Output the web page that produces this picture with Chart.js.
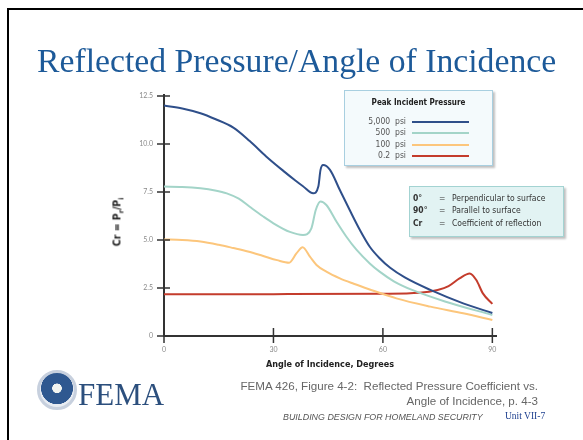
<!DOCTYPE html>
<html>
<head>
<meta charset="utf-8">
<script src="https://cdn.jsdelivr.net/npm/chart.js@4"></script>
<style>
  body { margin: 0; background: #fff; }
  #page { position: relative; width: 583px; height: 440px; overflow: hidden; background: #fff; }
  #frameTop { position: absolute; left: 7px; top: 8px; width: 576px; height: 2px; background: #000; }
  #frameLeft { position: absolute; left: 7px; top: 8px; width: 2px; height: 432px; background: #000; }
  #myChart { position: absolute; left: 0; top: 0; }
  .txt { position: absolute; white-space: nowrap; }
  #title { left: 37px; top: 42px; font-family: "Liberation Serif", serif; font-size: 33.7px; color: #1d5a99; }
  #ytitle { left: 118px; top: 222px; transform: translate(-50%, -50%) rotate(-90deg);
    font-family: "DejaVu Sans Condensed", "DejaVu Sans", sans-serif; font-weight: bold; font-size: 10.5px; color: #222; }
  #ytitle sub { font-size: 7px; }
  .box { position: absolute; box-shadow: 2px 2px 2px rgba(0,0,0,0.25); }
  #legendBox { left: 344px; top: 90px; width: 147px; height: 74px; background: #f4fafc; border: 1.5px solid #a8cfe0; }
  #legendHead { position: absolute; left: 0; width: 100%; top: 7px; text-align: center;
    font-family: "DejaVu Sans Condensed", "DejaVu Sans", sans-serif; font-weight: bold; font-size: 8px; color: #222; }
  .lrow { position: absolute; left: 0; height: 11px; width: 100%; }
  .lrow span { position: absolute; right: 86px; top: 0; font-family: "DejaVu Sans Condensed", "DejaVu Sans", sans-serif; font-size: 8.5px; color: #555; line-height: 11px; }
  .lrow i { position: absolute; left: 67px; top: 5px; width: 57px; height: 2px; }
  #noteBox { left: 409px; top: 186px; width: 153px; height: 49px; background: #e2f3f3; border: 1.5px solid #a3d3d2; }
  .nrow { position: absolute; left: 0; height: 12px; width: 100%; font-family: "DejaVu Sans Condensed", "DejaVu Sans", sans-serif; font-size: 8.5px; color: #333; line-height: 12px; }
  .nrow b { position: absolute; left: 3px; }
  .nrow em { position: absolute; left: 29px; font-style: normal; }
  .nrow span { position: absolute; left: 42px; }
  #cap1 { right: 45px; top: 379px; font-family: "Liberation Sans", Arial, sans-serif; font-size: 11.6px; color: #666; }
  #cap2 { right: 45px; top: 394px; font-family: "Liberation Sans", Arial, sans-serif; font-size: 11.6px; color: #666; }
  #cap3 { left: 283px; top: 412px; font-family: "Liberation Sans", Arial, sans-serif; font-style: italic; font-size: 8.9px; color: #555; }
  #unit { left: 505px; top: 411px; font-family: "Liberation Serif", serif; font-size: 9.5px; color: #1d3f8f; }
  #fema { left: 78px; top: 378px; font-family: "Liberation Serif", serif; font-size: 31px; color: #2c4f7d; line-height: 34px; }
  #seal { position: absolute; left: 37px; top: 370px; width: 34px; height: 34px; border-radius: 50%;
    border: 3px solid #c7d0de; background: radial-gradient(circle at 50% 45%, #f2f4f0 0 18%, #2f5890 20% 62%, #e8ecf2 64% 100%); }
</style>
</head>
<body>
<div id="page">
  <canvas id="myChart" width="583" height="440"></canvas>
  <div id="frameTop"></div>
  <div id="frameLeft"></div>
  <div class="txt" id="title">Reflected Pressure/Angle of Incidence</div>
  <div class="txt" id="ytitle">Cr = P<sub>r</sub>/P<sub>i</sub></div>
  <div class="box" id="legendBox"><div id="legendHead">Peak Incident Pressure</div></div>
  <div class="box" id="noteBox"></div>
  <div class="txt" id="cap1">FEMA 426, Figure 4-2:&nbsp; Reflected Pressure Coefficient vs.</div>
  <div class="txt" id="cap2">Angle of Incidence, p. 4-3</div>
  <div class="txt" id="cap3">BUILDING DESIGN FOR HOMELAND SECURITY</div>
  <div class="txt" id="unit">Unit VII-7</div>
  <div id="seal"></div>
  <div class="txt" id="fema">FEMA</div>
</div>
<script>
// Cr, per peak incident pressure
const angles5000 = [0, 5, 10, 14, 19, 23.5, 28, 32.7, 36, 38.1, 40.9, 42.3, 42.9, 43.6, 45.5, 48.2, 50.9, 53.7, 56.4, 59.1, 62, 66, 73, 82, 90];
const cr5000 = [12.0, 11.85, 11.6, 11.3, 10.85, 10.15, 9.35, 8.6, 8.1, 7.8, 7.43, 7.78, 8.65, 8.9, 8.65, 7.6, 6.56, 5.52, 4.65, 4.05, 3.55, 3.05, 2.4, 1.7, 1.2];

const angles500 = [0, 5, 10, 14, 17.2, 20.5, 23.5, 27, 30, 34.5, 38.1, 40.4, 41.6, 42.9, 44.5, 47.3, 50, 52.8, 56.4, 59.1, 63, 68, 77, 90];
const cr500 = [7.78, 7.76, 7.69, 7.58, 7.43, 7.15, 6.73, 6.25, 5.87, 5.42, 5.26, 5.61, 6.56, 7.0, 6.82, 5.95, 5.17, 4.48, 3.78, 3.35, 2.85, 2.4, 1.8, 1.09];

const angles100 = [0, 5, 10, 15, 19, 23, 27, 31, 34.3, 36.3, 38, 40, 41.8, 44.5, 48.2, 52, 56, 63.7, 73, 82, 90];
const cr100 = [5.03, 5.0, 4.92, 4.75, 4.58, 4.4, 4.18, 3.95, 3.82, 4.3, 4.62, 4.13, 3.7, 3.35, 3.0, 2.72, 2.45, 1.96, 1.53, 1.18, 0.83];

const angles02 = [0, 30, 60, 70, 75, 78, 81, 83.8, 85.6, 87.4, 90];
const cr02 = [2.17, 2.18, 2.2, 2.25, 2.4, 2.6, 3.0, 3.26, 2.92, 2.22, 1.67];

const seriesLabels = ['5,000', '500', '100', '0.2'];
const seriesColors = ['#2f4f8a', '#a3d4c8', '#fcc67c', '#c43c2c'];

const xTickValues = [0, 30, 60, 90];
const xTickLabels = ['0', '30', '60', '90'];
const yTickValues = [0, 2.5, 5, 7.5, 10, 12.5];
const yTickLabels = ['0', '2.5', '5.0', '7.5', '10.0', '12.5'];

const notes = [['0°', 'Perpendicular to surface'], ['90°', 'Parallel to surface'], ['Cr', 'Coefficient of reflection']];

function toPoints(xs, ys) {
    return xs.map((x, i) => ({ x: x, y: ys[i] }));
}

// legend rows
const legendBox = document.getElementById('legendBox');
seriesLabels.forEach((lab, i) => {
    const row = document.createElement('div');
    row.className = 'lrow';
    row.style.top = (25 + i * 11.3) + 'px';
    row.innerHTML = `<span>${lab}&nbsp; psi</span><i style="background:${seriesColors[i]}"></i>`;
    legendBox.appendChild(row);
});
const noteBox = document.getElementById('noteBox');
notes.forEach((n, i) => {
    const row = document.createElement('div');
    row.className = 'nrow';
    row.style.top = (5 + i * 12.3) + 'px';
    row.innerHTML = `<b>${n[0]}</b><em>=</em><span>${n[1]}</span>`;
    noteBox.appendChild(row);
});

// tick marks that cross the axis lines
const crossTicks = {
    id: 'crossTicks',
    afterDraw(chart) {
        const ctx = chart.ctx;
        const xs = chart.scales.x;
        const ys = chart.scales.y;
        const axisY = ys.getPixelForValue(0);
        const axisX = xs.getPixelForValue(0);
        ctx.save();
        ctx.strokeStyle = '#333';
        ctx.lineWidth = 1.5;
        ctx.beginPath();
        xTickValues.forEach(v => {
            const px = xs.getPixelForValue(v);
            ctx.moveTo(px, axisY - 8);
            ctx.lineTo(px, axisY + 7);
        });
        yTickValues.forEach(v => {
            const py = ys.getPixelForValue(v);
            ctx.moveTo(axisX - 7, py);
            ctx.lineTo(axisX + 6, py);
        });
        ctx.stroke();
        ctx.restore();
    }
};

const ctx = document.getElementById('myChart').getContext('2d');
new Chart(ctx, {
    type: 'line',
    data: {
        datasets: [
            { label: seriesLabels[0], data: toPoints(angles5000, cr5000), borderColor: seriesColors[0] },
            { label: seriesLabels[1], data: toPoints(angles500, cr500), borderColor: seriesColors[1] },
            { label: seriesLabels[2], data: toPoints(angles100, cr100), borderColor: seriesColors[2] },
            { label: seriesLabels[3], data: toPoints(angles02, cr02), borderColor: seriesColors[3] },
        ]
    },
    options: {
        responsive: false,
        animation: false,
        devicePixelRatio: 1,
        layout: { padding: { left: 100, top: 95, right: 87, bottom: 64 } },
        elements: {
            point: { radius: 0 },
            line: { borderWidth: 2, cubicInterpolationMode: 'monotone', fill: false }
        },
        plugins: { legend: { display: false }, tooltip: { enabled: false } },
        scales: {
            x: {
                type: 'linear',
                min: 0,
                max: 91,
                afterFit: s => { s.height = 40; },
                afterBuildTicks: s => { s.ticks = xTickValues.map(v => ({ value: v })); },
                grid: { display: false },
                border: { color: '#333', width: 2 },
                ticks: {
                    padding: 2,
                    color: '#8a8a8a',
                    font: { family: 'Lato', size: 7 },
                    maxRotation: 0,
                    callback: (v, i) => xTickLabels[i]
                },
                title: {
                    display: true,
                    text: 'Angle of Incidence, Degrees',
                    color: '#222',
                    font: { family: 'DejaVu Sans Condensed', size: 9, weight: 'bold' },
                    padding: { top: 0, bottom: 6 }
                }
            },
            y: {
                min: 0,
                max: 12.55,
                afterFit: s => { s.width = 64; },
                afterBuildTicks: s => { s.ticks = yTickValues.map(v => ({ value: v })); },
                grid: { display: false },
                border: { color: '#333', width: 2 },
                ticks: {
                    padding: 3,
                    color: '#8a8a8a',
                    font: { family: 'Lato', size: 7 },
                    callback: (v, i) => yTickLabels[i]
                }
            }
        }
    },
    plugins: [crossTicks]
});
</script>
</body>
</html>
